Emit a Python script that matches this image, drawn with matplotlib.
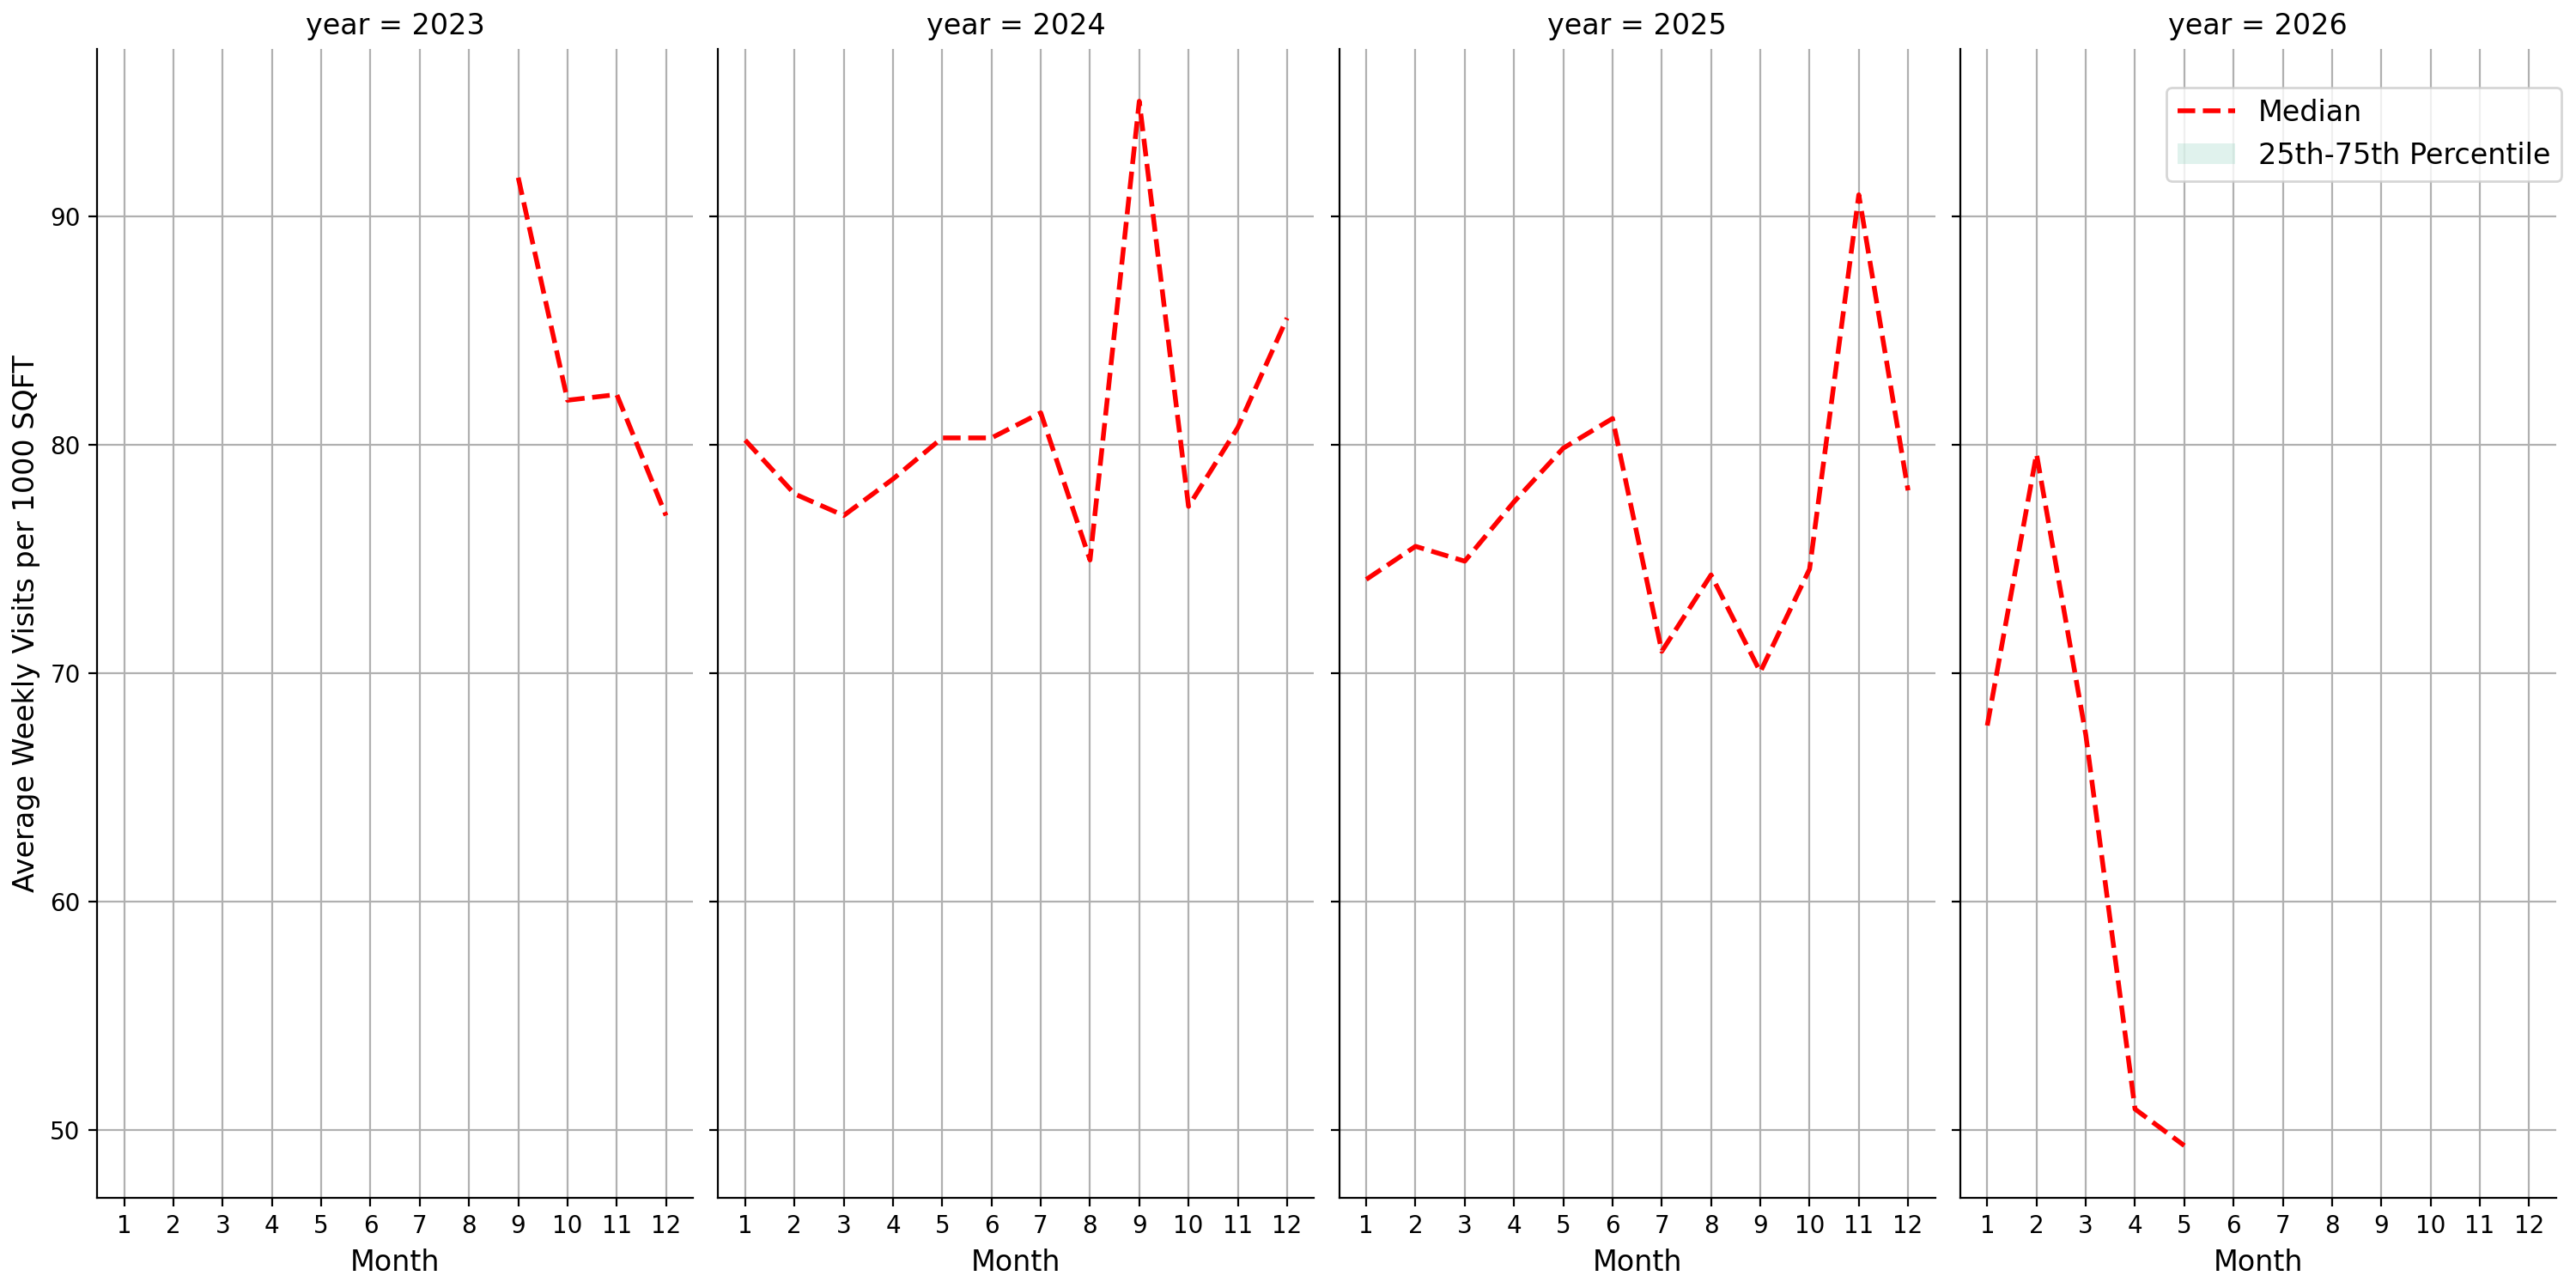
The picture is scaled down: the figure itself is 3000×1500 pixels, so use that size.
import matplotlib
matplotlib.use("Agg")
import matplotlib.pyplot as plt
import numpy as np

years = [2023, 2024, 2025, 2026]
month_ticks = list(range(1, 13))

# months present per year
months_2023 = [9, 10, 11, 12]
months_2024 = [1, 2, 3, 4, 5, 6, 7, 8, 9, 10, 11, 12]
months_2025 = [1, 2, 3, 4, 5, 6, 7, 8, 9, 10, 11, 12]
months_2026 = [1, 2, 3, 4, 5]

# median weekly visits per 1000 sqft
median_2023 = [91.7, 81.95, 82.2, 76.9]
median_2024 = [80.2, 77.85, 76.9, 78.5, 80.3, 80.3, 81.4, 74.95, 95.05, 77.3, 80.75, 85.55]
median_2025 = [74.1, 75.55, 74.9, 77.5, 79.85, 81.15, 70.95, 74.3, 70.05, 74.55, 90.95, 78.0]
median_2026 = [67.7, 79.6, 67.3, 50.9, 49.3]

months_by_year = [months_2023, months_2024, months_2025, months_2026]
median_by_year = [median_2023, median_2024, median_2025, median_2026]

fig, axes = plt.subplots(1, 4, figsize=(15, 7.5), dpi=200, sharex=True, sharey=True)
fig.subplots_adjust(left=0.0377, right=0.9923, bottom=0.07, top=0.962, wspace=0.042)

for ax, year, months, med in zip(axes, years, months_by_year, median_by_year):
    # interquartile band (collapsed onto the median in the source data)
    ax.fill_between(months, med, med, color="#66c2a5", alpha=0.2, linewidth=0,
                    label="25th-75th Percentile")
    ax.plot(months, med, color="red", linestyle="--", linewidth=2, label="Median")
    ax.set_title(f"year = {year}", fontsize=12)
    ax.set_xlabel("Month", fontsize=12)
    ax.set_xticks(month_ticks)
    ax.grid(True)
    ax.spines["top"].set_visible(False)
    ax.spines["right"].set_visible(False)

axes[0].set_ylabel("Average Weekly Visits per 1000 SQFT", fontsize=12)
axes[0].set_yticks([50, 60, 70, 80, 90])

handles, labels = axes[-1].get_legend_handles_labels()
order = [labels.index("Median"), labels.index("25th-75th Percentile")]
fig.legend([handles[i] for i in order], [labels[i] for i in order],
           loc="upper right", bbox_to_anchor=(1.0, 0.9433), fontsize=12)

fig.savefig("out.png", dpi=200)
